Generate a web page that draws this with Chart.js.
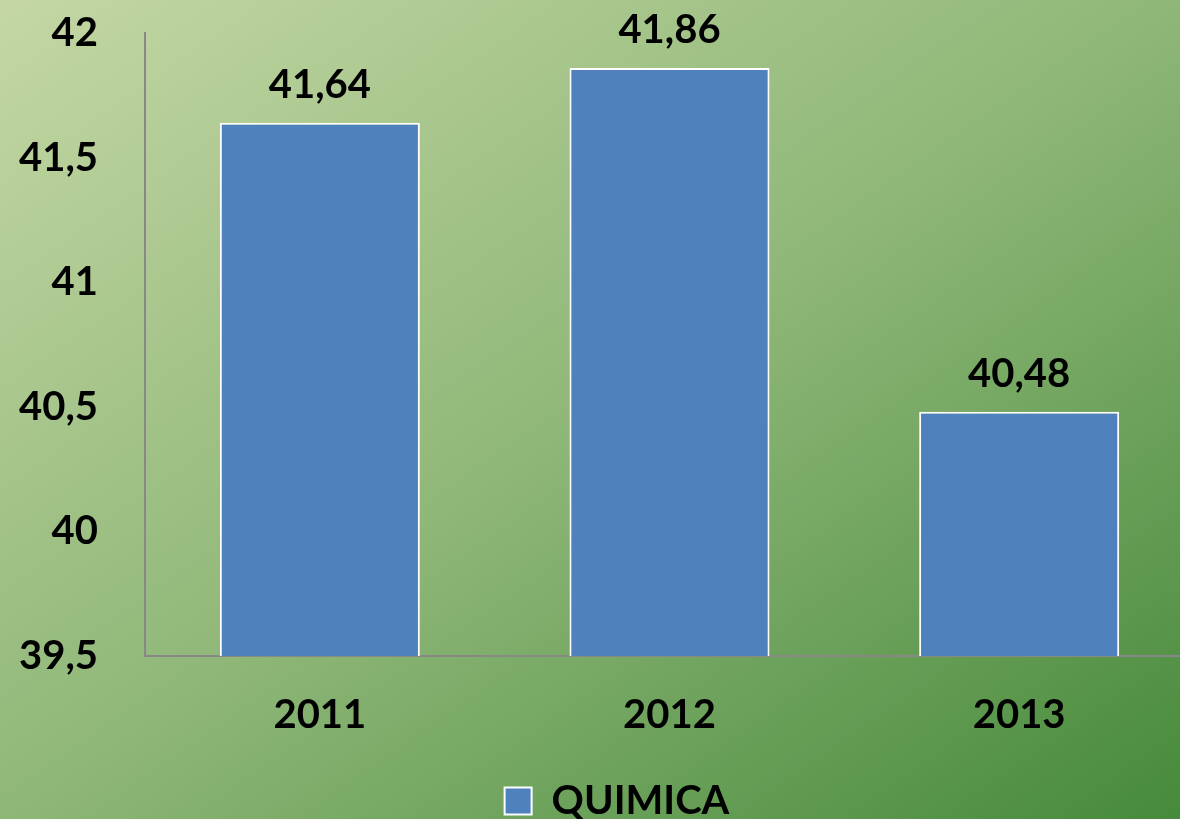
<!DOCTYPE html>
<html lang="es">
  <head>
    <meta charset="UTF-8" />
    <title>QUIMICA</title>
    <style>
      html, body {
        margin: 0;
        padding: 0;
        width: 1180px;
        height: 819px;
        overflow: hidden;
      }
      body {
        background: linear-gradient(to bottom right, #c4d7a4 0%, #8fb778 50%, #468a3b 100%);
        font-family: Lato, "Open Sans", sans-serif;
      }
      #wrap {
        width: 1194px;
        height: 819px;
      }
    </style>
  </head>
  <body>
    <div id="wrap">
      <canvas id="chart" width="1194" height="819"></canvas>
    </div>

    <script src="https://cdn.jsdelivr.net/npm/chart.js"></script>
    <script>
      // data
      const years = ["2011", "2012", "2013"];
      const quimica = [41.64, 41.86, 40.48];
      const seriesName = "QUIMICA";
      const yMin = 39.5;
      const yMax = 42;
      const yStep = 0.5;

      const comma = (v) => String(v).replace(".", ",");
      const boldFont = { family: "Lato", size: 40, weight: "bold" };

      // value labels above each bar
      const valueLabels = {
        id: "valueLabels",
        afterLayout(chart) {
          // let the y tick labels use the space left of the scale box (no clipping)
          chart.scales.y.left = 0;
        },
        afterDatasetsDraw(chart) {
          const ctx = chart.ctx;
          const meta = chart.getDatasetMeta(0);
          ctx.save();
          ctx.font = "bold 40px Lato";
          ctx.fillStyle = "#000";
          ctx.textAlign = "center";
          ctx.textBaseline = "alphabetic";
          meta.data.forEach((bar, i) => {
            ctx.fillText(comma(quimica[i]), bar.x, bar.y - 25);
          });
          ctx.restore();
        },
      };

      new Chart(document.getElementById("chart"), {
        type: "bar",
        data: {
          labels: years,
          datasets: [
            {
              label: seriesName,
              data: quimica,
              backgroundColor: "#4f81bd",
              borderColor: "#ffffff",
              borderWidth: 2,
              barPercentage: 0.572,
              categoryPercentage: 1,
            },
          ],
        },
        options: {
          responsive: false,
          animation: false,
          layout: { padding: { top: 33, left: 40, right: 0, bottom: -12 } },
          plugins: {
            tooltip: { enabled: false },
            legend: {
              position: "bottom",
              labels: {
                color: "#000",
                font: boldFont,
                boxWidth: 27,
                boxHeight: 27,
                padding: 0,
              },
            },
          },
          scales: {
            x: {
              grid: { display: false },
              border: { display: true, color: "#888888", width: 2 },
              ticks: { color: "#000", font: boldFont, padding: 27 },
              afterFit: (s) => {
                s.height = 125;
              },
            },
            y: {
              min: yMin,
              max: yMax,
              grid: { display: false },
              border: { display: true, color: "#888888", width: 2 },
              ticks: {
                stepSize: yStep,
                color: "#000",
                font: boldFont,
                padding: 39,
                callback: (v) => comma(v),
              },
              afterFit: (s) => {
                s.width = 105;
                s.paddingTop = 0;
                s.paddingBottom = 0;
              },
            },
          },
        },
        plugins: [valueLabels],
      });
    </script>
  </body>
</html>
